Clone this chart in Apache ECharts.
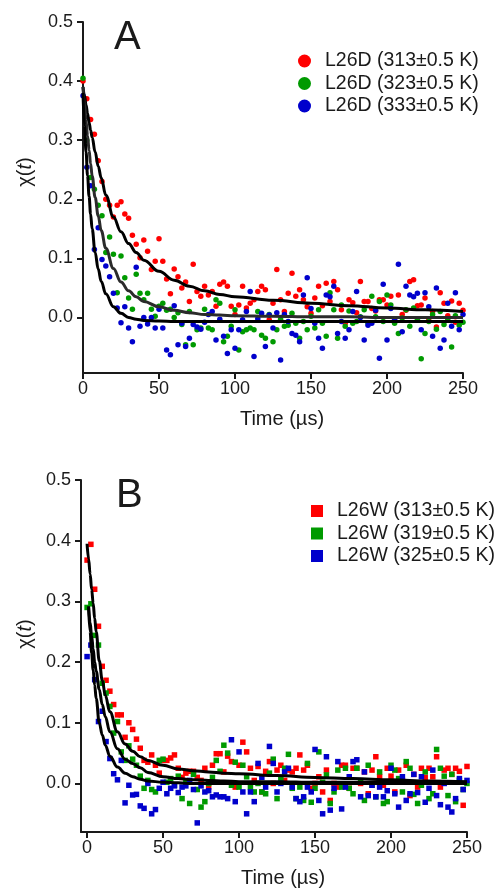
<!DOCTYPE html>
<html>
<head>
<meta charset="utf-8">
<title>chi(t) decay</title>
<script src="https://cdn.jsdelivr.net/npm/echarts@6/dist/echarts.min.js"></script>
<style>
  html, body { margin: 0; padding: 0; background: #fff; }
  #chart { width: 496px; height: 890px; }
</style>
</head>
<body>
<div id="chart"></div>
<script>
// sample times (µs), same for every data series
const times = [
  0, 2.5, 5, 7.5, 10, 12.5, 15, 17.5, 20, 22.5,
  25, 27.5, 30, 32.5, 35, 37.5, 40, 42.5, 45, 47.5,
  50, 52.5, 55, 57.5, 60, 62.5, 65, 67.5, 70, 72.5,
  75, 77.5, 80, 82.5, 85, 87.5, 90, 92.5, 95, 97.5,
  100, 102.5, 105, 107.5, 110, 112.5, 115, 117.5, 120, 122.5,
  125, 127.5, 130, 132.5, 135, 137.5, 140, 142.5, 145, 147.5,
  150, 152.5, 155, 157.5, 160, 162.5, 165, 167.5, 170, 172.5,
  175, 177.5, 180, 182.5, 185, 187.5, 190, 192.5, 195, 197.5,
  200, 202.5, 205, 207.5, 210, 212.5, 215, 217.5, 220, 222.5,
  225, 227.5, 230, 232.5, 235, 237.5, 240, 242.5, 245, 247.5,
  250
];

// panel A - L26D
const namesA = ['L26D (313±0.5 K)', 'L26D (323±0.5 K)', 'L26D (333±0.5 K)'];
const redA = [
  0.400, 0.370, 0.335, 0.310, 0.265, 0.230, 0.200, 0.190, 0.170, 0.190,
  0.196, 0.175, 0.168, 0.139, 0.124, 0.101, 0.131, 0.112, 0.081, 0.095,
  0.133, 0.095, 0.065, 0.040, 0.082, 0.069, 0.050, 0.060, 0.027, 0.090,
  0.044, 0.036, 0.053, 0.038, 0.044, 0.019, 0.056, 0.060, 0.053, 0.019,
  0.005, 0.021, 0.053, 0.016, 0.024, 0.030, 0.044, 0.053, 0.047, -0.004,
  0.024, 0.081, 0.030, 0.010, 0.041, 0.075, 0.036, 0.047, 0.030, 0.018,
  0.007, 0.033, 0.053, 0.020, 0.058, 0.027, 0.061, 0.047, 0.013, -0.010,
  0.030, 0.025, 0.008, 0.061, 0.027, 0.027, 0.015, 0.011, 0.030, 0.030,
  0.021, 0.036, -0.005, 0.038, 0.005, 0.012, 0.061, 0.064, 0.020, 0.021,
  0.033, -0.002, 0.010, -0.016, 0.042, 0.024, 0.003, 0.028, -0.008, 0.024,
  0.012
];
const greenA = [
  0.405, 0.300, 0.237, 0.217, 0.190, 0.172, 0.110, 0.136, 0.107, 0.042,
  0.104, 0.067, 0.033, 0.014, 0.073, 0.041, 0.030, 0.041, 0.014, 0.002,
  0.019, 0.024, 0.012, 0.014, 0.000, 0.008, -0.012, -0.046, 0.010, -0.046,
  -0.021, -0.018, 0.014, -0.018, -0.021, 0.030, 0.024, -0.041, -0.032, -0.015,
  0.013, -0.055, -0.024, -0.021, -0.018, -0.021, 0.010, -0.030, -0.035, 0.005,
  -0.041, -0.021, -0.003, -0.015, -0.013, 0.007, -0.010, -0.035, -0.007, -0.021,
  0.002, -0.018, 0.013, -0.010, -0.032, 0.042, 0.013, -0.035, 0.021, -0.015,
  0.011, -0.010, -0.007, 0.001, 0.013, -0.010, 0.036, 0.001, 0.027, -0.007,
  0.038, 0.021, -0.010, -0.027, -0.001, 0.013, -0.015, 0.016, -0.003, -0.070,
  -0.027, -0.007, 0.005, -0.020, 0.010, -0.012, -0.004, -0.050, 0.003, -0.013,
  -0.008
];
const blueA = [
  0.375, 0.254, 0.223, 0.115, 0.152, 0.098, 0.087, 0.069, 0.041, 0.016,
  -0.009, 0.018, -0.018, -0.041, 0.085, -0.015, 0.000, -0.011, 0.000, -0.018,
  0.014, -0.018, -0.055, -0.063, 0.020, -0.046, -0.010, -0.049, -0.035, -0.012,
  -0.016, -0.020, -0.008, 0.005, 0.010, -0.038, -0.003, -0.032, -0.061, -0.021,
  -0.052, -0.021, -0.004, 0.010, 0.044, -0.066, -0.002, 0.007, -0.049, 0.004,
  -0.018, 0.008, -0.072, 0.005, -0.007, -0.027, -0.030, -0.041, 0.038, 0.067,
  0.015, -0.010, -0.035, -0.052, 0.038, 0.035, 0.053, -0.027, -0.007, -0.035,
  -0.021, 0.010, 0.044, 0.000, -0.038, -0.013, -0.010, 0.012, -0.069, 0.056,
  -0.038, 0.015, -0.003, 0.090, -0.024, 0.053, 0.038, 0.035, 0.041, -0.021,
  0.042, 0.018, -0.032, 0.050, -0.052, -0.038, 0.024, -0.015, 0.042, -0.021,
  0.005
];

// panel B - L26W
const namesB = ['L26W (313±0.5 K)', 'L26W (319±0.5 K)', 'L26W (325±0.5 K)'];
const redB = [
  0.368, 0.394, 0.320, 0.259, 0.193, 0.170, 0.152, 0.130, 0.113, 0.113,
  0.076, 0.100, 0.089, 0.073, 0.058, 0.038, 0.035, 0.047, 0.030, 0.017,
  0.038, 0.038, 0.042, 0.047, 0.025, 0.010, 0.017, 0.020, 0.020, 0.010,
  0.005, 0.025, -0.006, 0.030, 0.049, 0.049, 0.019, 0.045, 0.036, -0.006,
  0.030, 0.068, 0.052, 0.025, 0.005, 0.028, -0.014, 0.020, 0.036, 0.000,
  0.022, 0.030, 0.005, 0.022, 0.019, 0.025, 0.047, 0.022, 0.030, -0.008,
  0.000, 0.011, -0.014, 0.022, -0.028, 0.000, -0.006, 0.030, 0.030, -0.008,
  0.025, 0.025, 0.000, 0.019, -0.017, 0.022, 0.044, 0.011, -0.003, 0.025,
  0.012, -0.014, 0.022, 0.005, 0.030, -0.020, 0.015, -0.006, 0.025, 0.010,
  0.025, 0.011, 0.044, -0.006, 0.022, 0.025, 0.015, 0.025, 0.020, -0.036,
  0.028
];
const greenB = [
  0.290, 0.296, 0.244, 0.228, 0.165, 0.149, 0.127, 0.083, 0.102, 0.052,
  0.038, 0.062, 0.040, 0.030, 0.012, -0.008, 0.005, -0.010, -0.014, 0.038,
  0.040, 0.002, 0.008, -0.003, 0.012, -0.025, 0.002, -0.033, 0.015, -0.010,
  -0.039, -0.030, 0.000, 0.010, 0.038, 0.020, 0.063, 0.050, -0.003, 0.035,
  -0.006, 0.030, 0.011, -0.006, -0.014, 0.000, -0.014, -0.017, 0.017, 0.040,
  -0.025, 0.007, 0.025, 0.048, -0.008, -0.025, -0.006, -0.028, 0.033, -0.031,
  -0.008, 0.052, 0.002, 0.014, -0.033, -0.014, 0.022, -0.006, 0.025, -0.008,
  -0.017, 0.025, 0.003, -0.028, 0.030, -0.003, -0.022, 0.019, -0.033, -0.030,
  0.030, 0.022, 0.008, -0.014, 0.036, 0.025, -0.018, -0.033, -0.003, 0.019,
  -0.025, -0.017, 0.056, 0.025, 0.012, -0.020, 0.015, -0.030, 0.005, -0.010,
  0.000
];
const blueB = [
  0.209, 0.228, 0.171, 0.102, 0.119, 0.069, 0.041, 0.016, 0.006, 0.038,
  -0.032, -0.003, -0.019, -0.018, -0.037, -0.041, 0.000, -0.050, -0.043, -0.008,
  0.002, -0.017, -0.008, -0.004, -0.015, -0.006, -0.004, 0.005, -0.010, -0.065,
  -0.004, -0.014, -0.012, -0.022, -0.019, -0.022, -0.022, -0.025, 0.072, -0.030,
  0.052, -0.014, -0.050, -0.014, -0.030, 0.033, 0.010, -0.006, 0.061, 0.033,
  -0.014, 0.000, 0.019, 0.025, -0.006, -0.025, -0.030, -0.022, -0.006, -0.014,
  0.056, -0.028, -0.050, 0.044, -0.044, -0.008, 0.036, -0.042, -0.006, 0.011,
  0.036, 0.039, -0.022, 0.019, -0.020, -0.003, -0.022, -0.006, -0.022, -0.012,
  0.025, -0.017, -0.039, 0.011, -0.028, -0.017, 0.015, -0.015, 0.011, -0.031,
  -0.008, 0.022, -0.020, -0.035, 0.000, -0.039, -0.047, -0.025, 0.008, -0.010,
  0.005
];

// fitted curves at these times
const fitTimes = [0, 1, 2, 3, 4, 5, 6, 8, 10, 12, 15, 20, 25, 30, 35, 40, 50, 60, 70, 80, 90, 100, 125, 150, 175, 200, 225, 250];
const fitRedA   = [0.390, 0.375, 0.360, 0.345, 0.330, 0.317, 0.305, 0.280, 0.256, 0.236, 0.207, 0.170, 0.145, 0.125, 0.110, 0.097, 0.078, 0.063, 0.053, 0.045, 0.039, 0.035, 0.029, 0.024, 0.020, 0.016, 0.013, 0.010];
const fitGreenA = [0.390, 0.360, 0.333, 0.307, 0.283, 0.260, 0.240, 0.203, 0.172, 0.147, 0.117, 0.083, 0.060, 0.045, 0.035, 0.027, 0.018, 0.012, 0.008, 0.005, 0.004, 0.003, 0.002, 0.001, 0.001, 0.000, 0.000, 0.000];
const fitBlueA  = [0.380, 0.325, 0.280, 0.240, 0.205, 0.175, 0.150, 0.110, 0.082, 0.061, 0.040, 0.018, 0.007, 0.000, -0.003, -0.005, -0.006, -0.007, -0.007, -0.007, -0.007, -0.007, -0.007, -0.007, -0.007, -0.007, -0.007, -0.007];
const fitRedB   = [0.395, 0.370, 0.345, 0.320, 0.297, 0.272, 0.250, 0.202, 0.170, 0.145, 0.118, 0.085, 0.065, 0.053, 0.044, 0.038, 0.030, 0.024, 0.021, 0.019, 0.017, 0.016, 0.013, 0.010, 0.008, 0.006, 0.004, 0.003];
const fitGreenB = [null, 0.292, 0.265, 0.243, 0.222, 0.200, 0.185, 0.155, 0.130, 0.110, 0.085, 0.057, 0.040, 0.033, 0.026, 0.018, 0.011, 0.008, 0.006, 0.005, 0.004, 0.003, 0.003, 0.002, 0.002, 0.002, 0.002, 0.002];
const fitBlueB  = [null, 0.290, 0.250, 0.215, 0.187, 0.162, 0.140, 0.100, 0.080, 0.063, 0.045, 0.027, 0.017, 0.011, 0.007, 0.004, 0.002, 0.001, 0.000, 0.000, 0.000, 0.000, 0.000, 0.000, 0.000, 0.000, 0.000, 0.000];

const yTicks = [0, 0.1, 0.2, 0.3, 0.4, 0.5];
const xTicks = [0, 50, 100, 150, 200, 250];

const colors = ['#ff0000', '#009a00', '#0000cc'];
const font = "'Liberation Sans', Arial, sans-serif";
const ink = '#1a1a1a';

function pairs(xs, ys) {
  return xs.map((x, i) => [x, ys[i]]);
}

function makeXAxis(gridIndex, min) {
  return {
    gridIndex: gridIndex,
    type: 'value',
    min: min,
    max: 250,
    name: 'Time (µs)',
    nameLocation: 'middle',
    nameGap: 36,
    nameTextStyle: { fontSize: 20, color: ink, fontFamily: font, padding: [0, 0, 0, 18] },
    axisLine: { show: true, onZero: false, lineStyle: { color: ink, width: 2 } },
    axisTick: { show: true, inside: false, length: 6, customValues: xTicks, lineStyle: { color: ink, width: 2 } },
    axisLabel: { show: true, margin: 7, fontSize: 18, color: ink, fontFamily: font, customValues: xTicks },
    splitLine: { show: false }
  };
}

function makeYAxis(gridIndex, min) {
  return {
    gridIndex: gridIndex,
    type: 'value',
    min: min,
    max: 0.5,
    axisLine: { show: true, onZero: false, lineStyle: { color: ink, width: 2 } },
    axisTick: { show: true, inside: false, length: 6, customValues: yTicks, lineStyle: { color: ink, width: 2 } },
    axisLabel: { show: true, margin: 10, fontSize: 18, color: ink, fontFamily: font, customValues: yTicks,
      formatter: v => v.toFixed(1) },
    splitLine: { show: false }
  };
}

function scatter(name, idx, data, color, symbol) {
  return {
    name: name,
    type: 'scatter',
    xAxisIndex: idx,
    yAxisIndex: idx,
    data: data,
    symbol: symbol,
    symbolSize: 5.5,
    itemStyle: { color: color, opacity: 1 },
    z: 2,
    silent: true
  };
}

function fit(idx, data, color) {
  return {
    type: 'line',
    xAxisIndex: idx,
    yAxisIndex: idx,
    data: data,
    showSymbol: false,
    symbol: 'none',
    smooth: 0.4,
    smoothMonotone: 'x',
    connectNulls: false,
    lineStyle: { color: color, width: 3 },
    z: 5,
    silent: true
  };
}

function legendStyle(names, left, top, icon, size) {
  return {
    data: names,
    orient: 'vertical',
    left: left,
    top: top,
    icon: icon,
    itemWidth: size,
    itemHeight: size,
    itemGap: 2.5,
    selectedMode: false,
    itemStyle: { borderWidth: 0 },
    textStyle: { fontSize: 19.5, lineHeight: 20, color: ink, fontFamily: font, padding: [0, 0, 0, 9] }
  };
}

function axisTitle(x, y) {
  return {
    type: 'text',
    x: x,
    y: y,
    rotation: Math.PI / 2,
    style: {
      text: '{n|χ(}{i|t}{n|)}',
      align: 'center',
      verticalAlign: 'middle',
      rich: {
        n: { fontSize: 20, fontFamily: font, fill: ink },
        i: { fontSize: 20, fontFamily: font, fontStyle: 'italic', fill: ink }
      }
    }
  };
}

const chart = echarts.init(document.getElementById('chart'), null, { renderer: 'canvas' });

chart.setOption({
  backgroundColor: '#ffffff',
  animation: false,
  textStyle: { fontFamily: font },
  grid: [
    { left: 83, top: 22, width: 380, height: 351, containLabel: false },
    { left: 81, top: 480, width: 386, height: 352, containLabel: false }
  ],
  xAxis: [makeXAxis(0, 0), makeXAxis(1, -4)],
  yAxis: [makeYAxis(0, -0.094), makeYAxis(1, -0.08)],
  legend: [
    legendStyle(namesA, 293, 46, 'circle', 13),
    legendStyle(namesB, 306, 496, 'rect', 12)
  ],
  graphic: [
    { type: 'text', x: 114, y: 38, style: { text: 'A', fontSize: 40, fontFamily: font, fill: ink, verticalAlign: 'middle' } },
    { type: 'text', x: 116, y: 496, style: { text: 'B', fontSize: 40, fontFamily: font, fill: ink, verticalAlign: 'middle' } },
    axisTitle(25, 172),
    axisTitle(25, 634)
  ],
  series: [
    scatter(namesA[0], 0, pairs(times, redA), colors[0], 'circle'),
    scatter(namesA[1], 0, pairs(times, greenA), colors[1], 'circle'),
    scatter(namesA[2], 0, pairs(times, blueA), colors[2], 'circle'),
    fit(0, pairs(fitTimes, fitRedA), '#000'),
    fit(0, pairs(fitTimes, fitGreenA), '#2b2b2b'),
    fit(0, pairs(fitTimes, fitBlueA), '#000'),
    scatter(namesB[0], 1, pairs(times, redB), colors[0], 'rect'),
    scatter(namesB[1], 1, pairs(times, greenB), colors[1], 'rect'),
    scatter(namesB[2], 1, pairs(times, blueB), colors[2], 'rect'),
    fit(1, pairs(fitTimes, fitRedB), '#000'),
    fit(1, pairs(fitTimes, fitGreenB), '#000'),
    fit(1, pairs(fitTimes, fitBlueB), '#000')
  ]
});
</script>
</body>
</html>
